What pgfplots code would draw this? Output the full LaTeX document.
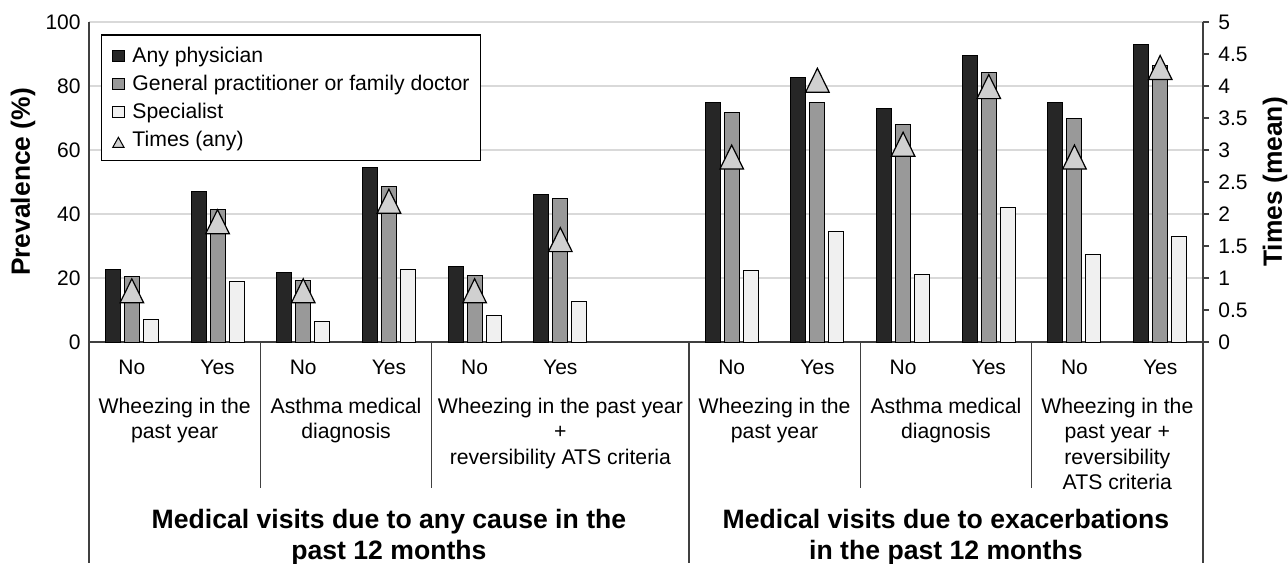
\documentclass[border=0pt]{standalone}
\usepackage{pgfplots}
\pgfplotsset{compat=1.18}
\usepackage{pgfplotstable}
\usepackage{fontspec}
\setmainfont{Liberation Sans}
\definecolor{cdark}{HTML}{262626}
\definecolor{cmid}{HTML}{999999}
\definecolor{clight}{HTML}{F0F0F0}
\definecolor{ctri}{HTML}{D0D0D0}
\definecolor{cgrid}{HTML}{D9D9D9}
\definecolor{caxis}{HTML}{404040}
\pgfdeclareplotmark{tri}{%
  \pgfpathmoveto{\pgfqpoint{0pt}{6pt}}%
  \pgfpathlineto{\pgfqpoint{5.9pt}{-6pt}}%
  \pgfpathlineto{\pgfqpoint{-5.9pt}{-6pt}}%
  \pgfpathclose\pgfusepathqfillstroke}
\pgfplotsset{sqlegend/.style={legend image code/.code={\draw[##1,line width=0.5pt] (0pt,-3.05pt) rectangle (5.6pt,2.55pt);}}}
\pgfplotstableread{
x any gp spec times
0 22.7 20.4 7.1 0.80
1 47.1 41.3 18.9 1.88
2 21.6 19.3 6.4 0.80
3 54.6 48.7 22.8 2.20
4 23.7 20.8 8.2 0.80
5 46.1 44.8 12.8 1.60
7 74.8 71.7 22.4 2.89
8 82.6 74.8 34.6 4.09
9 73.1 68.0 21.2 3.09
10 89.4 84.1 41.9 3.99
11 74.9 70.0 27.5 2.89
12 93.0 86.5 33.1 4.29
}\datatable
\begin{document}
\begin{tikzpicture}
\begin{axis}[
  scale only axis, width=557pt, height=160pt,
  xmin=-0.5, xmax=12.5, ymin=0, ymax=100,
  ybar=2pt, bar width=7.5pt,
  axis x line*=bottom, axis y line*=left,
  axis line style={caxis, line width=0.65pt},
  xtick={0,1,2,3,4,5,7,8,9,10,11,12},
  xticklabels={No,Yes,No,Yes,No,Yes,No,Yes,No,Yes,No,Yes},
  xtick style={draw=none}, ytick style={draw=none},
  ytick={0,20,...,100},
  ymajorgrids, grid style={cgrid, line width=0.65pt},
  tick label style={font=\fontsize{10.5}{12}\selectfont},
  xticklabel style={anchor=north, inner sep=0pt, yshift=-4.8pt},
  yticklabel style={anchor=east, inner sep=0pt, xshift=-4pt},
  /pgf/number format/assume math mode=true,
  ylabel={Prevalence (\%)},
  ylabel style={font=\fontsize{13.2}{15}\bfseries, at={(axis description cs:-0.0592,0.5)}, anchor=center},
  clip=false,
  legend cell align=left,
  legend style={at={(axis description cs:0,1)}, anchor=north west, xshift=5.85pt, yshift=-6.15pt,
    draw=black, line width=0.6pt, fill=white, inner xsep=5.5pt, inner ysep=6.3pt, row sep=5.9pt,
    font=\fontsize{10.6}{12}\selectfont,
    nodes={inner sep=0pt, text height=7.6pt, text depth=0.4pt},
    cells={anchor=west},
    /tikz/every odd column/.append style={column sep=4pt}},
]
\addplot[fill=cdark, draw=black, line width=0.5pt, sqlegend] table[x=x, y=any] {\datatable};
\addlegendentry{Any physician}
\addplot[fill=cmid, draw=black, line width=0.5pt, sqlegend] table[x=x, y=gp] {\datatable};
\addlegendentry{General practitioner or family doctor}
\addplot[fill=clight, draw=black, line width=0.5pt, sqlegend] table[x=x, y=spec] {\datatable};
\addlegendentry{Specialist}
\addlegendimage{legend image code/.code={\draw[black, fill=ctri, line width=0.5pt] (0pt,-4.2pt) -- (5.6pt,-4.2pt) -- (2.8pt,0.8pt) -- cycle;}}
\addlegendentry{Times (any)}
\coordinate (o) at (rel axis cs:0,0);
% separators
\draw[caxis, line width=0.65pt] (axis cs:1.5,0) -- ++(0pt,-73pt);
\draw[caxis, line width=0.65pt] (axis cs:3.5,0) -- ++(0pt,-73pt);
\draw[caxis, line width=0.65pt] (axis cs:8.5,0) -- ++(0pt,-73pt);
\draw[caxis, line width=0.65pt] (axis cs:10.5,0) -- ++(0pt,-73pt);
\draw[caxis, line width=0.65pt] (axis cs:-0.5,0) -- ++(0pt,-110.5pt);
\draw[caxis, line width=0.65pt] (axis cs:6.5,0) -- ++(0pt,-110.5pt);
\draw[caxis, line width=0.65pt] (axis cs:12.5,0) -- ++(0pt,-110.5pt);
\tikzset{grp/.style={font=\fontsize{10.6}{12.75}\selectfont, align=center, anchor=north, inner sep=0pt, yshift=-27.75pt}}
\node[grp] at (axis cs:0.5,0) {Wheezing in the\\past year};
\node[grp] at (axis cs:2.5,0) {Asthma medical\\diagnosis};
\node[grp] at (axis cs:5,0) {Wheezing in the past year\\+\\reversibility ATS criteria};
\node[grp] at (axis cs:7.5,0) {Wheezing in the\\past year};
\node[grp] at (axis cs:9.5,0) {Asthma medical\\diagnosis};
\node[grp] at (axis cs:11.5,0) {Wheezing in the\\past year +\\reversibility\\ATS criteria};
\tikzset{ttl/.style={font=\fontsize{13.3}{15.5}\bfseries\selectfont, align=center, anchor=north, inner sep=0pt, yshift=-83.4pt}}
\node[ttl] at (axis cs:3,0) {Medical visits due to any cause in the\\past 12 months};
\node[ttl] at (axis cs:9.5,0) {Medical visits due to exacerbations\\in the past 12 months};
\end{axis}
\begin{axis}[
  scale only axis, width=557pt, height=160pt,
  xmin=-0.5, xmax=12.5, ymin=0, ymax=5,
  axis x line=none, axis y line*=right,
  axis line style={caxis, line width=0.65pt},
  ytick={0,0.5,1,1.5,2,2.5,3,3.5,4,4.5,5},
  tick align=outside, major tick length=3pt,
  ytick style={caxis, line width=0.65pt},
  tick label style={font=\fontsize{10.5}{12}\selectfont},
  yticklabel style={anchor=west, inner sep=0pt, xshift=4.5pt},
  /pgf/number format/assume math mode=true,
  ylabel={Times (mean)},
  ylabel style={font=\fontsize{13.2}{15}\bfseries, at={(axis description cs:1.0646,0.5)}, anchor=center},
  clip=false,
]
\addplot[only marks, mark=tri, mark options={fill=ctri, draw=black, line width=0.6pt}] table[x=x, y=times] {\datatable};
\end{axis}
\pgfresetboundingbox
\path ([shift={(-44.5pt,-110.5pt)}]o) rectangle ([shift={(599.5pt,171pt)}]o);
\end{tikzpicture}
\end{document}
